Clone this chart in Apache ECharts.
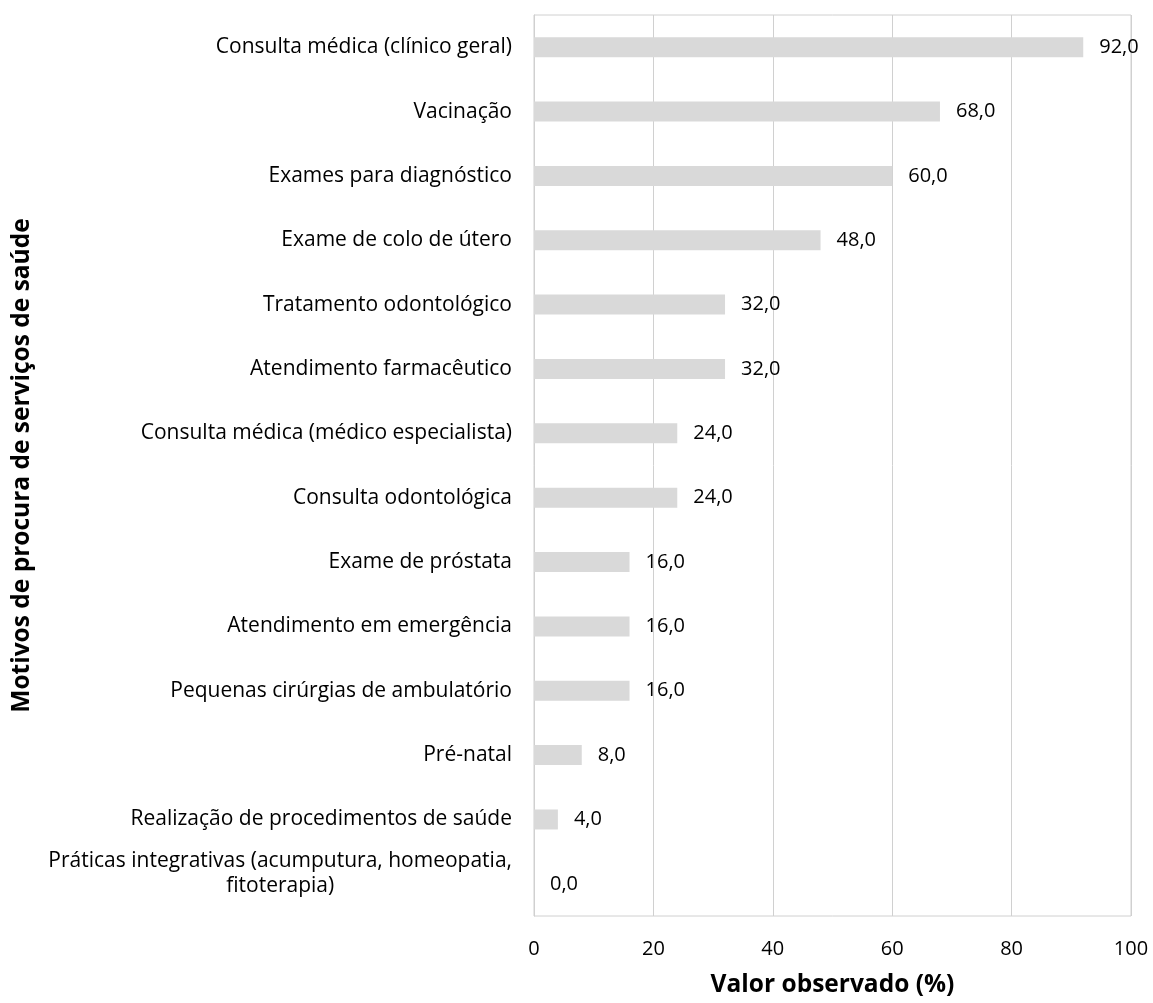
<!DOCTYPE html>
<html><head><meta charset="utf-8">
<script src="https://cdn.jsdelivr.net/npm/echarts@6/dist/echarts.min.js"></script>
<style>html,body{margin:0;padding:0;background:#fff}#c{width:1153px;height:1003px}</style>
</head><body><div id="c"></div>
<script>
const categories = [
  "Consulta médica (clínico geral)",
  "Vacinação",
  "Exames para diagnóstico",
  "Exame de colo de útero",
  "Tratamento odontológico",
  "Atendimento farmacêutico",
  "Consulta médica (médico especialista)",
  "Consulta odontológica",
  "Exame de próstata",
  "Atendimento em emergência",
  "Pequenas cirúrgias de ambulatório",
  "Pré-natal",
  "Realização de procedimentos de saúde",
  "Práticas integrativas (acumputura, homeopatia,\nfitoterapia)"
];
const values = [92, 68, 60, 48, 32, 32, 24, 24, 16, 16, 16, 8, 4, 0];
const xTicks = [0, 20, 40, 60, 80, 100];
const xTitle = "Valor observado (%)";
const yTitle = "Motivos de procura de serviços de saúde";

const FONT = "Open Sans";
const FS = 21;
const chart = echarts.init(document.getElementById('c'));
chart.setOption({
  animation: false,
  backgroundColor: '#fff',
  grid: { left: 534, right: 22, top: 15, bottom: 86, show: true, borderColor: '#d0d0d0', borderWidth: 1 },
  xAxis: {
    type: 'value', min: xTicks[0], max: xTicks[xTicks.length - 1], interval: 20,
    axisLine: { show: false }, axisTick: { show: false },
    splitLine: { lineStyle: { color: '#d0d0d0', width: 1 } },
    axisLabel: { color: '#000', fontFamily: FONT, fontSize: 20, margin: 23 },
    name: xTitle, nameLocation: 'middle', nameGap: 57,
    nameTextStyle: { color: '#000', fontFamily: FONT, fontSize: 24.5, fontWeight: 'bold' }
  },
  yAxis: {
    type: 'category', data: categories, inverse: true,
    axisLine: { show: true, lineStyle: { color: '#d0d0d0' } }, axisTick: { show: false },
    axisLabel: {
      color: '#000', fontFamily: FONT, fontSize: FS, margin: 22,
      formatter: v => {
        const lines = v.split('\n').map(l => '{c|' + l + '}');
        if (lines.length > 1) lines.push('{e| }');
        return lines.join('\n');
      },
      rich: {
        c: { align: 'center', fontFamily: FONT, fontSize: FS, color: '#000', lineHeight: 25 },
        e: { fontSize: 10, lineHeight: 20 }
      }
    },
    name: yTitle, nameLocation: 'middle', nameGap: 499, nameRotate: 90,
    nameTextStyle: { color: '#000', fontFamily: FONT, fontSize: 24.5, fontWeight: 'bold' }
  },
  series: [{
    type: 'bar', data: values, barWidth: 20,
    itemStyle: { color: '#d9d9d9' },
    label: {
      show: true, position: 'right', distance: 16, color: '#000',
      fontFamily: FONT, fontSize: 20,
      formatter: p => p.value.toFixed(1).replace('.', ',')
    }
  }]
});
</script></body></html>
